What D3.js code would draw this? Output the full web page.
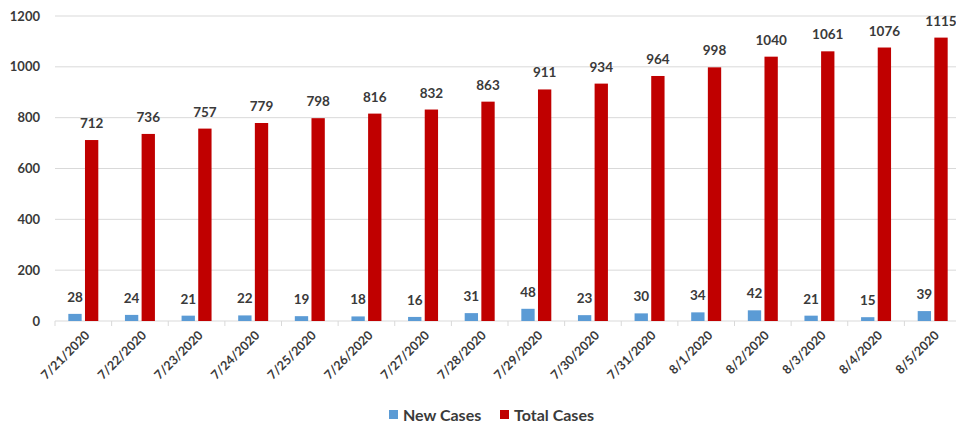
<!DOCTYPE html>
<html>
<head>
<meta charset="utf-8">
<script src="https://cdn.jsdelivr.net/npm/d3@7"></script>
<style>
  body { margin: 0; background: #fff; }
  text { font-family: Lato, "Noto Sans", sans-serif; font-weight: bold; fill: #3a3a3a; }
</style>
</head>
<body>
<script>
const width = 956;
const height = 425;

const dates = ["7/21/2020", "7/22/2020", "7/23/2020", "7/24/2020", "7/25/2020", "7/26/2020",
  "7/27/2020", "7/28/2020", "7/29/2020", "7/30/2020", "7/31/2020", "8/1/2020",
  "8/2/2020", "8/3/2020", "8/4/2020", "8/5/2020"];
const newCases = [28, 24, 21, 22, 19, 18, 16, 31, 48, 23, 30, 34, 42, 21, 15, 39];
const totalCases = [712, 736, 757, 779, 798, 816, 832, 863, 911, 934, 964, 998, 1040, 1061, 1076, 1115];
const yTicks = [0, 200, 400, 600, 800, 1000, 1200];
const seriesNames = ["New Cases", "Total Cases"];
const colors = ["#5B9BD5", "#C00000"];

const margin = { left: 55, right: -5, top: 16, bottom: 104 };

const svg = d3.select("body")
  .append("svg")
  .attr("width", width)
  .attr("height", height);

const x = d3.scaleBand()
  .domain(dates)
  .range([margin.left, width - margin.right]);

const sub = d3.scaleBand()
  .domain(seriesNames)
  .range([0, x.bandwidth()])
  .paddingInner(0.2)
  .paddingOuter(0.8);

const y = d3.scaleLinear()
  .domain([0, 1200])
  .range([height - margin.bottom, margin.top]);

// gridlines
svg.append("g")
  .selectAll("line")
  .data(yTicks)
  .enter()
  .append("line")
  .attr("x1", margin.left)
  .attr("x2", width)
  .attr("y1", d => y(d))
  .attr("y2", d => y(d))
  .attr("stroke", "#d9d9d9")
  .attr("stroke-width", 1);

// y labels
svg.append("g")
  .selectAll("text")
  .data(yTicks)
  .enter()
  .append("text")
  .attr("x", 40)
  .attr("y", d => y(d))
  .attr("dy", "0.35em")
  .attr("text-anchor", "end")
  .style("font-size", "13px")
  .text(d => d);

// x tick marks at category boundaries
svg.append("g")
  .selectAll("line")
  .data(dates)
  .enter()
  .append("line")
  .attr("x1", d => x(d))
  .attr("x2", d => x(d))
  .attr("y1", y(0))
  .attr("y2", y(0) + 5)
  .attr("stroke", "#d9d9d9");

const rows = dates.map((d, i) => ({ date: d, values: [newCases[i], totalCases[i]] }));

const groups = svg.append("g")
  .selectAll("g")
  .data(rows)
  .enter()
  .append("g")
  .attr("transform", d => `translate(${x(d.date)},0)`);

groups.selectAll("rect")
  .data(d => d.values.map((v, j) => ({ key: seriesNames[j], v, j })))
  .enter()
  .append("rect")
  .attr("x", d => sub(d.key))
  .attr("width", sub.bandwidth())
  .attr("y", d => y(d.v))
  .attr("height", d => y(0) - y(d.v))
  .attr("fill", d => colors[d.j]);

groups.selectAll("text")
  .data(d => d.values.map((v, j) => ({ key: seriesNames[j], v, j })))
  .enter()
  .append("text")
  .attr("x", d => sub(d.key) + sub.bandwidth() / 2)
  .attr("y", d => y(d.v) - 12)
  .attr("text-anchor", "middle")
  .style("font-size", "13.5px")
  .text(d => d.v);

// x labels rotated
svg.append("g")
  .selectAll("text")
  .data(dates)
  .enter()
  .append("text")
  .attr("transform", d => `translate(${x(d) + x.bandwidth() / 2 + 4},${y(0) + 12}) rotate(-45)`)
  .attr("text-anchor", "end")
  .attr("dy", "0.35em")
  .style("font-size", "12.5px")
  .text(d => d);

// legend
const legend = svg.append("g").attr("transform", "translate(389,415)");
const lx = [0, 111];
seriesNames.forEach((name, i) => {
  legend.append("rect")
    .attr("x", lx[i])
    .attr("y", -5)
    .attr("width", 9)
    .attr("height", 9)
    .attr("fill", colors[i]);
  legend.append("text")
    .attr("x", lx[i] + 14)
    .attr("y", 0)
    .attr("dy", "0.35em")
    .style("font-size", "16px")
    .text(name);
});
</script>
</body>
</html>
